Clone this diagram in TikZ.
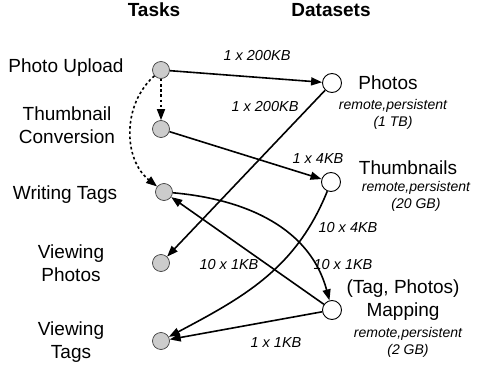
\documentclass[tikz,border=0pt]{standalone}
\usepackage{fontspec}
\setmainfont{Liberation Sans}
\usetikzlibrary{arrows.meta}

\begin{document}
\begin{tikzpicture}[x=1pt, y=1pt,
  task/.style={circle, draw=black!75, fill=black!20, line width=0.7pt, minimum size=17pt, inner sep=0pt},
  dataset/.style={circle, draw=black, fill=white, line width=0.9pt, minimum size=19pt, inner sep=0pt},
  flow/.style={line width=1.6pt, -{Triangle[length=11pt, width=8pt]}},
  order/.style={flow, dash pattern=on 2.6pt off 2.6pt},
  head/.style={font=\fontsize{19}{23}\selectfont\bfseries},
  txt/.style={font=\fontsize{19}{23}\selectfont, align=center},
  info/.style={font=\fontsize{14}{17}\selectfont\itshape, align=center},
  amount/.style={font=\fontsize{14.5}{17}\selectfont\itshape}]
\useasboundingbox (0,0) rectangle (477,368);

\node[head] (taskhead) at (154,358) {Tasks};
\node[head] (datahead) at (331,358) {Datasets};

% tasks
\node[task] (upload) at (161,298) {};
\node[task] (thumbconv) at (161,239) {};
\node[task] (writetags) at (164,176) {};
\node[task] (viewphotos) at (161,105) {};
\node[task] (viewtags) at (161,27) {};
\node[txt] (uploadlbl) at (66,300) {Photo Upload};
\node[txt] (thumbconvlbl) at (67,242.5) {Thumbnail\\Conversion};
\node[txt] (writetagslbl) at (65,173) {Writing Tags};
\node[txt] (viewphotoslbl) at (71,104.5) {Viewing\\Photos};
\node[txt] (viewtagslbl) at (71,25.5) {Viewing\\Tags};

% datasets
\node[dataset] (photos) at (332,285) {};
\node[dataset] (thumbs) at (331,186) {};
\node[dataset] (mapping) at (332,58) {};
\node[txt] (photoslbl) at (388,285) {Photos};
\node[info] (photosinfo) at (393,253.5) {remote,persistent\\(1 TB)};
\node[txt] (thumbslbl) at (408,200) {Thumbnails};
\node[info] (thumbsinfo) at (416,171.5) {remote,persistent\\(20 GB)};
\node[txt] (mappinglbl) at (403,68) {(Tag, Photos)\\Mapping};
\node[info] (mappinginfo) at (408,26) {remote,persistent\\(2 GB)};

% data flows
\draw[flow] (upload) -- (photos);
\draw[flow] (photos) -- (viewphotos);
\draw[flow] (thumbconv) -- (thumbs);
\draw[flow] (thumbs) to[out=-112, in=28] (viewtags);
\draw[flow] (writetags) to[out=-5, in=105] (mapping);
\draw[flow] (mapping) -- (writetags);
\draw[flow] (mapping) -- (viewtags);
\draw[order] (upload) -- (thumbconv);
\draw[order] (upload) to[bend right=50] (writetags);

\node[amount] (a1) at (257,312) {1 x 200KB};
\node[amount] (a2) at (265,261) {1 x 200KB};
\node[amount] (a3) at (318,209) {1 x 4KB};
\node[amount] (a4) at (348,140) {10 x 4KB};
\node[amount] (a5) at (343,103) {10 x 1KB};
\node[amount] (a6) at (229,103) {10 x 1KB};
\node[amount] (a7) at (276,25) {1 x 1KB};
\end{tikzpicture}
\end{document}
